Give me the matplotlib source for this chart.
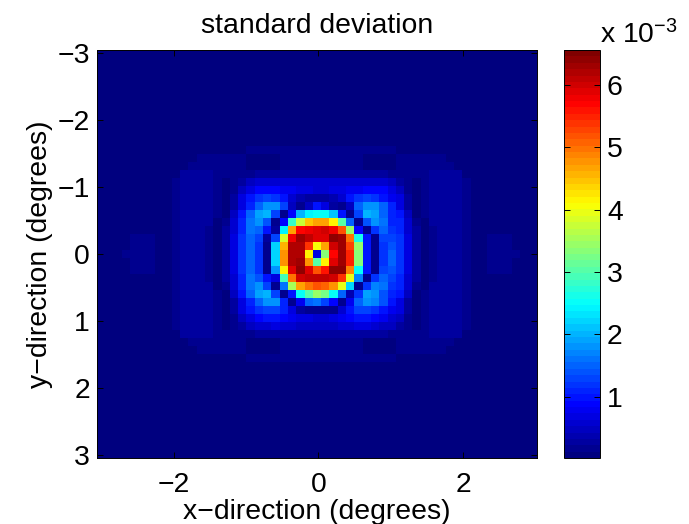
#!/usr/bin/python3
import numpy as np
import matplotlib
matplotlib.use("Agg")
import matplotlib.pyplot as plt
from matplotlib.colors import LinearSegmentedColormap

plt.rcParams['font.family'] = ['Liberation Sans', 'DejaVu Sans']
plt.rcParams['mathtext.default'] = 'regular'
plt.rcParams['axes.linewidth'] = 0.7

n_rows, n_cols = 51, 53
background = 0.05     # units of 1e-3
value_min = 0.02
value_max = 6.56
x_ticks = [-2, 0, 2]
y_ticks = [-3, -2, -1, 0, 1, 2, 3]
cbar_ticks = [1, 2, 3, 4, 5, 6]

# faint outer lobes, upper left quadrant, rows 10-25, cols 3-26, in 1e-5
outer_rows = [
    [5]*20 + [10]*4,
    [5]*16 + [12]*8,
    [5]*12 + [11, 11, 11] + [14]*9,
    [5]*9 + [15]*6 + [10, 10, 10, 10, 15, 15, 15, 15, 15],
    [5]*8 + [17]*7 + [10, 10, 10, 10, 18, 18, 18, 18, 18],
    [5]*7 + [24, 24, 24, 24, 20, 16, 13, 13, 18, 28, 32, 32, 32, 32, 32, 32, 32],
    [5]*6 + [15, 24, 24, 24, 24, 18, 10, 18, 28, 45, 55, 60, 60, 60, 55, 55, 55, 55],
    [5]*6 + [15, 25, 25, 25, 25, 16, 10, 20, 45] + [0]*9,
    [5]*6 + [15, 25, 25, 25, 25, 16, 10, 30, 65] + [0]*9,
    [5]*6 + [15, 25, 25, 25, 25, 13, 10, 30, 70] + [0]*9,
    [5]*6 + [15, 25, 25, 25, 23, 13, 10, 50, 95] + [0]*9,
    [5]*6 + [15, 25, 25, 25, 23, 10, 20, 55, 105] + [0]*9,
    [5, 5, 12, 12, 5, 5, 15, 25, 25, 25, 22, 9, 25, 60, 110] + [0]*9,
    [5, 14, 14, 14, 5, 5, 15, 25, 25, 25, 22, 9, 30, 65, 115] + [0]*9,
    [5, 14, 14, 14, 5, 5, 15, 25, 25, 25, 20, 9, 30, 65, 115] + [0]*9,
    [13, 13, 13, 13, 5, 5, 15, 25, 25, 25, 18, 9, 30, 67, 116] + [0]*9,
]

# central block, rows 17-34, cols 18-35, in 1e-3
center_rows = [
    [.65, .85, .9, .85, .8, .75, .7, .65, .6, .6, .65, .7, .75, .8, .85, .9, .85, .65],
    [1.0, 1.15, 1.3, 1.2, .95, .6, .35, .3, .3, .3, .35, .6, .95, 1.2, 1.3, 1.15, 1.0, .8],
    [1.1, 1.5, 1.8, 1.85, 1.3, .45, .2, .5, .95, .7, .3, .2, .5, 1.5, 1.85, 1.8, 1.5, 1.1],
    [1.5, 1.9, 2.0, 1.3, .15, .85, 2.0, 2.45, 2.5, 2.5, 2.1, 1.0, .15, 1.3, 2.0, 1.9, 1.5, 1.1],
    [1.6, 1.8, 1.35, .2, .85, 2.8, 3.8, 4.5, 4.7, 4.7, 4.2, 3.0, 1.5, .2, 1.35, 1.8, 1.6, 1.1],
    [1.6, 1.55, .95, .25, 2.4, 4.7, 5.7, 5.8, 5.9, 6.0, 5.8, 5.2, 3.4, .9, .2, 1.2, 1.55, 1.2],
    [1.55, 1.3, .25, 1.3, 3.9, 5.8, 6.3, 6.1, 5.9, 5.9, 6.4, 6.3, 5.0, 2.6, 1.0, .2, 1.25, 1.3],
    [1.5, 1.2, .2, 2.2, 4.6, 6.2, 6.2, 5.4, 4.1, 4.7, 6.0, 6.3, 5.3, 3.4, 1.0, .2, 1.2, 1.45],
    [1.5, 1.16, .2, 2.2, 4.8, 6.2, 6.2, 4.2, .7, 3.3, 5.7, 6.3, 5.5, 3.3, .95, .2, 1.16, 1.5],
    [1.5, 1.16, .2, 2.2, 4.8, 6.2, 6.3, 4.8, 3.0, 4.2, 5.9, 6.3, 5.5, 3.3, 1.0, .2, 1.16, 1.5],
    [1.55, 1.2, .2, 1.8, 4.2, 5.9, 6.4, 5.9, 5.2, 5.6, 6.4, 6.4, 4.9, 2.5, 1.0, .2, 1.25, 1.45],
    [1.6, 1.4, 1.0, .65, 2.9, 5.0, 6.0, 6.1, 6.1, 6.1, 6.0, 5.4, 4.0, 1.7, .2, 1.15, 1.5, 1.3],
    [1.6, 1.8, 1.3, .2, 1.6, 3.5, 4.7, 5.0, 5.2, 5.1, 4.8, 4.0, 2.2, .2, 1.2, 1.7, 1.6, 1.2],
    [1.5, 1.9, 2.0, 1.25, .2, 1.0, 2.5, 3.0, 3.4, 3.2, 2.5, 1.5, .4, 1.2, 1.9, 1.85, 1.4, 1.05],
    [1.1, 1.5, 1.85, 1.8, 1.1, .15, .75, 1.5, 1.6, 1.3, .85, .2, .75, 1.5, 1.8, 1.7, 1.4, 1.0],
    [1.0, 1.15, 1.3, 1.25, 1.05, .65, .3, .15, .15, .15, .2, .55, 1.0, 1.25, 1.3, 1.15, .95, .75],
    [.65, .85, .95, .95, .9, .8, .7, .65, .6, .6, .65, .75, .85, .95, .95, .9, .75, .6],
    [.45, .55, .6, .65, .6, .55, .5, .5, .5, .5, .5, .55, .6, .65, .65, .6, .5, .45],
]

# assemble the grid: outer lobes are nearly symmetric, so mirror the quadrant
std_map = np.full((n_rows, n_cols), background)
std_map[10:26, 3:27] = np.array(outer_rows) / 100.0
std_map[26:, :] = std_map[:25][::-1]
std_map[:, 27:] = std_map[:, 26:0:-1]
std_map[17:35, 18:36] = np.array(center_rows)

# MATLAB style jet, 64 levels
jet64 = LinearSegmentedColormap.from_list(
    'jet64',
    [(0, (0, 0, .5)), (1/8, (0, 0, 1)), (3/8, (0, 1, 1)),
     (5/8, (1, 1, 0)), (7/8, (1, 0, 0)), (1, (.5, 0, 0))], N=64)

fig = plt.figure(figsize=(6.89, 5.24), dpi=100)
ax = fig.add_axes([97/689, 66/524, 440/689, 408/524])
im = ax.imshow(std_map, cmap=jet64, vmin=value_min, vmax=value_max, aspect='auto',
               interpolation='nearest', extent=[-3.06, 3.02, 3.05, -3.05])
ax.set_xticks(x_ticks)
ax.set_yticks(y_ticks)
ax.set_xticklabels(['\u2212' + str(-t) if t < 0 else str(t) for t in x_ticks])
ax.set_yticklabels(['\u2212' + str(-t) if t < 0 else str(t) for t in y_ticks])
ax.tick_params(direction='in', top=True, right=True, length=4, width=0.7,
               labelsize=20.4, pad=5)
ax.tick_params(axis='x', pad=10)
ax.set_title('standard deviation', fontsize=20.4, pad=12)
ax.set_xlabel('x\u2212direction (degrees)', fontsize=20.4, labelpad=1)
ax.set_ylabel('y\u2212direction (degrees)', fontsize=20.4, labelpad=3)

cax = fig.add_axes([564/689, 66/524, 36/689, 408/524])
cbar = fig.colorbar(im, cax=cax)
cbar.set_ticks(cbar_ticks)
cbar.ax.tick_params(direction='in', left=True, right=True, length=4, width=0.7,
                    labelsize=20.4, pad=5)
cbar.outline.set_linewidth(0.7)
fig.text(600/689, 1 - 43/524, 'x 10$^{\u22123}$', fontsize=20.4, va='baseline')

fig.savefig('out.png', dpi=100)
